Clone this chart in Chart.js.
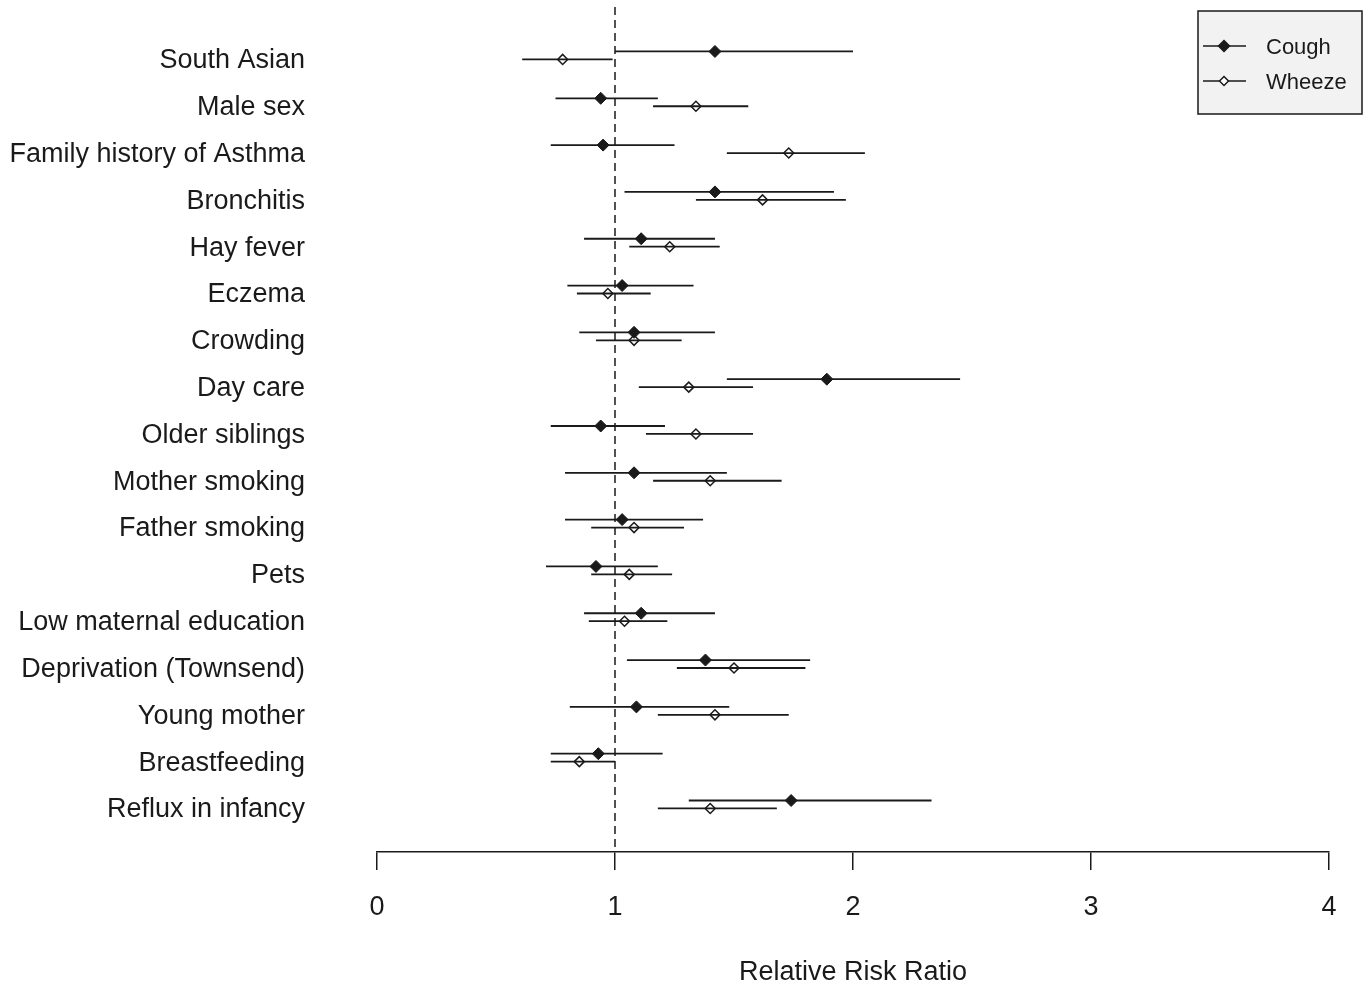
<!DOCTYPE html>
<html>
<head>
<meta charset="utf-8">
<script src="https://cdn.jsdelivr.net/npm/chart.js@4.4.1/dist/chart.umd.min.js"></script>
<style>
  html, body { margin: 0; padding: 0; background: #fff; }
  #wrap { width: 1370px; height: 986px; }
</style>
</head>
<body>
<div id="wrap"><canvas id="forest" width="1370" height="986"></canvas></div>
<script>
// ---- data ----
const categories = [
  "South Asian", "Male sex", "Family history of Asthma", "Bronchitis", "Hay fever",
  "Eczema", "Crowding", "Day care", "Older siblings", "Mother smoking",
  "Father smoking", "Pets", "Low maternal education", "Deprivation (Townsend)",
  "Young mother", "Breastfeeding", "Reflux in infancy"
];
const seriesNames = ["Cough", "Wheeze"];

const coughEst = [1.42, 0.94, 0.95, 1.42, 1.11, 1.03, 1.08, 1.89, 0.94, 1.08, 1.03, 0.92, 1.11, 1.38, 1.09, 0.93, 1.74];
const coughLo  = [1.00, 0.75, 0.73, 1.04, 0.87, 0.80, 0.85, 1.47, 0.73, 0.79, 0.79, 0.71, 0.87, 1.05, 0.81, 0.73, 1.31];
const coughHi  = [2.00, 1.18, 1.25, 1.92, 1.42, 1.33, 1.42, 2.45, 1.21, 1.47, 1.37, 1.18, 1.42, 1.82, 1.48, 1.20, 2.33];

const wheezeEst = [0.78, 1.34, 1.73, 1.62, 1.23, 0.97, 1.08, 1.31, 1.34, 1.40, 1.08, 1.06, 1.04, 1.50, 1.42, 0.85, 1.40];
const wheezeLo  = [0.61, 1.16, 1.47, 1.34, 1.06, 0.84, 0.92, 1.10, 1.13, 1.16, 0.90, 0.90, 0.89, 1.26, 1.18, 0.73, 1.18];
const wheezeHi  = [0.99, 1.56, 2.05, 1.97, 1.44, 1.15, 1.28, 1.58, 1.58, 1.70, 1.29, 1.24, 1.22, 1.80, 1.73, 1.00, 1.68];

const xTicks = [0, 1, 2, 3, 4];
const refValue = 1;          // null effect line
const xTitle = "Relative Risk Ratio";

// row layout on the y scale (row index, cough sits a bit above, wheeze on the row)
const Y_MIN = -1.09, Y_MAX = 16.96;
const COUGH_OFF = -0.14, WHEEZE_OFF = 0.03;
const LABEL_OFF = 0.06;

const INK = "#1a1a1a";
const FONT = "'Liberation Sans', Arial, sans-serif";

// ---- build datasets ----
function ciData(lo, hi, off) {
  const out = [];
  lo.forEach((l, i) => {
    out.push({ x: l, y: i + off }, { x: hi[i], y: i + off }, { x: l, y: null });
  });
  return out;
}
function ptData(est, off) {
  return est.map((v, i) => ({ x: v, y: i + off }));
}

// legend drawn inside the plot, top right
const boxLegend = {
  id: "boxLegend",
  afterDraw(chart) {
    const c = chart.ctx;
    const x0 = 1198, y0 = 11, w = 164, h = 103;
    c.save();
    c.fillStyle = "#f2f2f2";
    c.fillRect(x0, y0, w, h);
    c.strokeStyle = INK;
    c.lineWidth = 1.5;
    c.strokeRect(x0, y0, w, h);
    seriesNames.forEach((name, k) => {
      const y = 46 + k * 35;
      c.strokeStyle = INK;
      c.lineWidth = 1.5;
      c.beginPath();
      c.moveTo(1203, y); c.lineTo(1246, y);
      c.stroke();
      c.beginPath();
      const r = k === 0 ? 5.5 : 4.5;
      c.moveTo(1224, y - r); c.lineTo(1224 + r, y); c.lineTo(1224, y + r); c.lineTo(1224 - r, y); c.closePath();
      c.fillStyle = k === 0 ? INK : "#fff";
      c.fill();
      c.stroke();
      c.fillStyle = INK;
      c.font = "22px " + FONT;
      c.textBaseline = "middle";
      c.textAlign = "left";
      c.fillText(name, 1266, y + 2);
    });
    c.restore();
  }
};

const ctx = document.getElementById("forest").getContext("2d");
new Chart(ctx, {
  type: "scatter",
  data: {
    datasets: [
      { label: "ref", data: [{ x: refValue, y: Y_MIN }, { x: refValue, y: Y_MAX }], showLine: true,
        borderColor: INK, borderWidth: 1.5, borderDash: [8, 5], pointRadius: 0 },
      { label: "Cough CI", data: ciData(coughLo, coughHi, COUGH_OFF), showLine: true, spanGaps: false,
        borderColor: INK, borderWidth: 1.8, pointRadius: 0 },
      { label: "Wheeze CI", data: ciData(wheezeLo, wheezeHi, WHEEZE_OFF), showLine: true, spanGaps: false,
        borderColor: INK, borderWidth: 1.8, pointRadius: 0 },
      { label: seriesNames[0], data: ptData(coughEst, COUGH_OFF), pointStyle: "rectRot", pointRadius: 6,
        backgroundColor: INK, borderColor: INK, borderWidth: 1 },
      { label: seriesNames[1], data: ptData(wheezeEst, WHEEZE_OFF), pointStyle: "rectRot", pointRadius: 5,
        backgroundColor: "#fff", borderColor: INK, borderWidth: 1.5 }
    ]
  },
  options: {
    responsive: false,
    animation: false,
    clip: false,
    layout: { padding: { top: 7, right: 41, left: 0, bottom: 0 } },
    plugins: { legend: { display: false }, tooltip: { enabled: false } },
    scales: {
      x: {
        type: "linear",
        position: "bottom",
        min: xTicks[0],
        max: xTicks[xTicks.length - 1],
        afterBuildTicks: (s) => { s.ticks = xTicks.map(v => ({ value: v })); },
        afterFit: (s) => { s.height = 134; s.paddingLeft = 0; s.paddingRight = 0; },
        border: { display: true, color: INK, width: 1.5 },
        grid: { drawOnChartArea: false, drawTicks: true, tickLength: 18, color: INK, lineWidth: 1.5 },
        ticks: { color: INK, font: { family: FONT, size: 27 }, padding: 21, maxRotation: 0 },
        title: { display: true, text: xTitle, color: INK, font: { family: FONT, size: 27 }, padding: { top: 0, bottom: -3 } }
      },
      y: {
        type: "linear",
        reverse: true,
        min: Y_MIN,
        max: Y_MAX,
        afterBuildTicks: (s) => { s.ticks = categories.map((_, i) => ({ value: i + LABEL_OFF })); },
        afterFit: (s) => { s.width = 377; s.paddingTop = 0; s.paddingBottom = 0; },
        border: { display: false },
        grid: { display: false },
        ticks: {
          color: INK,
          font: { family: FONT, size: 27 },
          padding: 64,
          callback: (v) => categories[Math.round(v)] ?? ""
        }
      }
    }
  },
  plugins: [boxLegend]
});
</script>
</body>
</html>
